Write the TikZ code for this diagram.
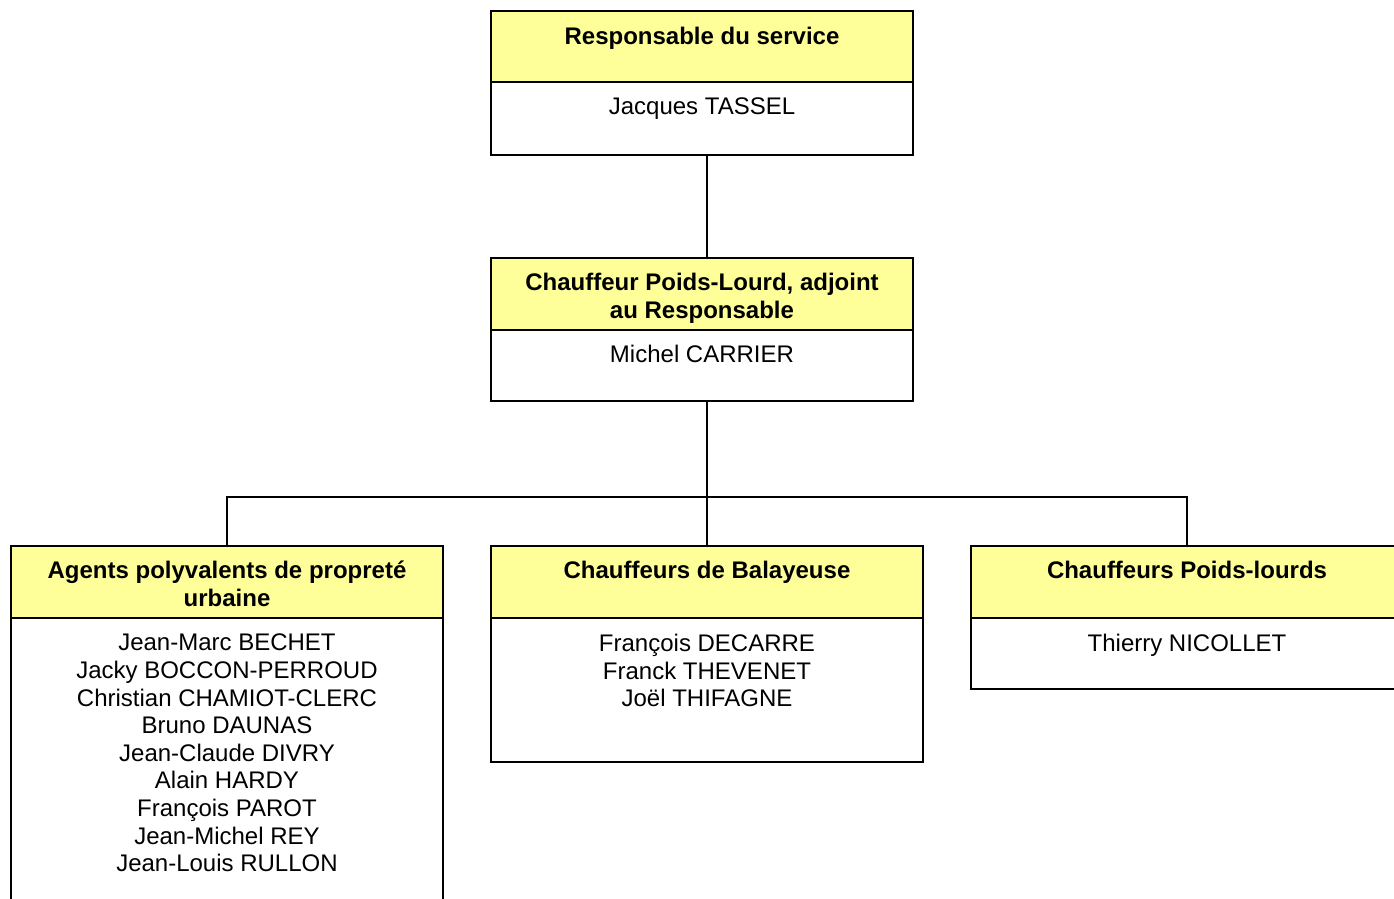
\documentclass[tikz,border=0pt]{standalone}
\usepackage{fontspec}
\setmainfont{Liberation Sans}
\definecolor{hdryellow}{HTML}{FFFF99}
\begin{document}
\begin{tikzpicture}[x=1pt,y=-1pt,
  boxline/.style={draw=black,line width=2pt,inner sep=0pt,outer sep=0pt,anchor=north west},
  hdr/.style={boxline,fill=hdryellow},
  bodybox/.style={boxline,fill=white},
  htxt/.style={inner sep=0pt,anchor=north,align=center,font=\fontsize{24}{27.6}\selectfont\bfseries},
  ntxt/.style={inner sep=0pt,anchor=north,align=center,font=\fontsize{24}{27.6}\selectfont},
  link/.style={draw=black,line width=2pt}]
\useasboundingbox (0,0) rectangle (1394,899);
\clip (0,0) rectangle (1394,899);
\fill[white] (0,0) rectangle (1394,899);

% Box A
\node[hdr,minimum width=422pt,minimum height=71pt] (Ah) at (491,11) {};
\node[bodybox,minimum width=422pt,minimum height=73pt] (Ab) at (491,82) {};
\node[htxt] (At) at ([yshift=-16pt]Ah.north) {Responsable du service};
\node[ntxt] (An) at ([yshift=-16pt]Ab.north) {Jacques TASSEL};

% Box B
\node[hdr,minimum width=422pt,minimum height=72pt] (Bh) at (491,258) {};
\node[bodybox,minimum width=422pt,minimum height=71pt] (Bb) at (491,330) {};
\node[htxt] (Bt) at ([yshift=-15pt]Bh.north) {Chauffeur Poids-Lourd, adjoint\\au Responsable};
\node[ntxt] (Bn) at ([yshift=-15pt]Bb.north) {Michel CARRIER};

% Box C
\node[hdr,minimum width=432pt,minimum height=72pt] (Ch) at (11,546) {};
\node[bodybox,minimum width=432pt,minimum height=320pt] (Cb) at (11,618) {};
\node[htxt] (Ct) at ([yshift=-15pt]Ch.north) {Agents polyvalents de propreté\\urbaine};
\node[ntxt] (Cn) at ([yshift=-16pt]Cb.north) {Jean-Marc BECHET\\Jacky BOCCON-PERROUD\\Christian CHAMIOT-CLERC\\Bruno DAUNAS\\Jean-Claude DIVRY\\Alain HARDY\\François PAROT\\Jean-Michel REY\\Jean-Louis RULLON};

% Box D
\node[hdr,minimum width=432pt,minimum height=72pt] (Dh) at (491,546) {};
\node[bodybox,minimum width=432pt,minimum height=144pt] (Db) at (491,618) {};
\node[htxt] (Dt) at ([yshift=-15pt]Dh.north) {Chauffeurs de Balayeuse};
\node[ntxt] (Dn) at ([yshift=-16pt]Db.north) {François DECARRE\\Franck THEVENET\\Joël THIFAGNE};

% Box E
\node[hdr,minimum width=432pt,minimum height=72pt] (Eh) at (971,546) {};
\node[bodybox,minimum width=432pt,minimum height=71pt] (Eb) at (971,618) {};
\node[htxt] (Et) at ([yshift=-15pt]Eh.north) {Chauffeurs Poids-lourds};
\node[ntxt] (En) at ([yshift=-16pt]Eb.north) {Thierry NICOLLET};

% Connectors
\coordinate (bus) at (707,497);
\draw[link] ([xshift=5pt]Ab.south) -- ([xshift=5pt]Bh.north);
\draw[link] ([xshift=5pt]Bb.south) -- (bus);
\draw[link] (bus) -| (Ch.north);
\draw[link] (bus) -| (Eh.north);
\draw[link] (bus) -- (Dh.north);
\end{tikzpicture}
\end{document}
